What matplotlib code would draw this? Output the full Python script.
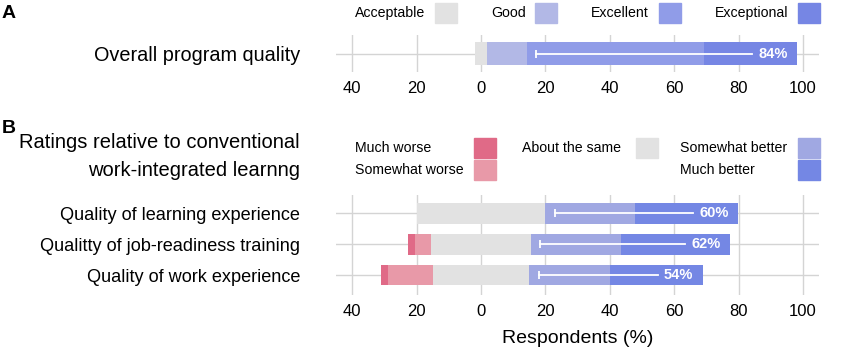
import numpy as np
import matplotlib.pyplot as plt
from matplotlib.patches import Rectangle

plt.rcParams['font.family'] = ['Liberation Sans', 'DejaVu Sans']

# Panel A data
quality_levels = ['Acceptable', 'Good', 'Excellent', 'Exceptional']
quality_colors = ['#e2e2e2', '#b2b8e6', '#909ce8', '#7686e4']
quality_pct = [3.5, 12.5, 55, 29]

# Panel B data
compare_levels = ['Much worse', 'Somewhat worse', 'About the same', 'Somewhat better', 'Much better']
compare_colors = ['#e06a87', '#e899a8', '#e2e2e2', '#a0a8e2', '#7487e4']
compare_items = ['Quality of learning experience', 'Qualitty of job-readiness training',
                 'Quality of work experience']
learning_pct = [0, 0, 40, 28, 32]
job_pct = [2, 5, 31, 28, 34]
work_pct = [2, 14, 30, 25, 29]

ticks = [-40, -20, 0, 20, 40, 60, 80, 100]
W, H = 851, 360
grid_col = '#d4d4d4'

fig = plt.figure(figsize=(W / 100, H / 100), dpi=100)


def frac_box(x0, y0, x1, y1):
    # pixel box (top-left origin) -> figure fraction [l, b, w, h]
    return [x0 / W, 1 - y1 / H, (x1 - x0) / W, (y1 - y0) / H]


def diverging_row(ax, y, values, colors, n_neg, hl_from, height):
    # neutral category is centred on zero; categories from hl_from on are summed in the label
    vals = np.array(values, dtype=float)
    neutral = vals[n_neg]
    left = -neutral / 2 - vals[:n_neg].sum()
    hl_start = None
    for i, (v, c) in enumerate(zip(vals, colors)):
        if i == hl_from:
            hl_start = left
        if v > 0:
            ax.barh(y, v, left=left, height=height, color=c, zorder=2)
        left += v
    end = left
    hl_total = vals[hl_from:].sum()
    ax.plot([hl_start + 3, end - 14], [y, y], color='white', lw=1.3, zorder=3)
    ax.plot([hl_start + 3], [y], marker='|', ms=6, mew=1.3, color='white', zorder=3)
    ax.text(end - 3, y, f'{hl_total:.0f}%', ha='right', va='center',
            color='white', fontsize=10.5, fontweight='bold', zorder=4)


def style_axis(ax, labels, ylim, label_size):
    ax.set_xlim(-45, 105)
    ax.set_ylim(*ylim)
    ax.set_xticks(ticks)
    ax.set_xticklabels([str(abs(t)) for t in ticks], fontsize=12)
    ax.tick_params(axis='x', length=0, pad=6.5)
    ax.set_yticks(range(len(labels)))
    ax.set_yticklabels(labels, fontsize=label_size)
    ax.tick_params(axis='y', length=0, pad=26)
    for t in ticks:
        ax.axvline(t, color=grid_col, lw=1, zorder=0)
    for i in range(len(labels)):
        ax.axhline(i, color=grid_col, lw=1, zorder=1)
    for s in ax.spines.values():
        s.set_visible(False)


# Panel A
axA = fig.add_axes(frac_box(336, 35, 819, 72))
style_axis(axA, ['Overall program quality'], (-0.5, 0.5), 14.3)
diverging_row(axA, 0, quality_pct, quality_colors, 0, 2, 0.6)

# Panel B
axB = fig.add_axes(frac_box(336, 195, 819, 295))
style_axis(axB, compare_items, (2.65, -0.6), 13.1)
for i, vals in enumerate([learning_pct, job_pct, work_pct]):
    diverging_row(axB, i, vals, compare_colors, 2, 3, 0.68)
axB.set_xlabel('Respondents (%)', fontsize=14, labelpad=8)

# panel letters and group title
fig.text(2 / W, 1 - 14 / H, 'A', fontsize=14, fontweight='bold', va='center')
fig.text(2 / W, 1 - 128 / H, 'B', fontsize=14, fontweight='bold', va='center')
fig.text(300 / W, 1 - 157 / H, 'Ratings relative to conventional\nwork-integrated learnng',
         fontsize=14.5, ha='right', va='center', multialignment='right', linespacing=1.6)


# legends drawn by hand
def legend_item(label, color, tx, box_x, cy):
    fig.text(tx / W, 1 - cy / H, label, fontsize=10.2, ha='left', va='center')
    fig.patches.append(Rectangle((box_x / W, 1 - (cy + 10) / H), 22 / W, 20 / H,
                                 transform=fig.transFigure, color=color))


legend_a = [(355, 435), (491, 535), (591, 659), (715, 798)]
for lab, col, (tx, bx) in zip(quality_levels, quality_colors, legend_a):
    legend_item(lab, col, tx, bx, 13)

legend_b = [(355, 474, 148), (355, 474, 170), (522, 636, 148), (680, 798, 148), (680, 798, 170)]
for lab, col, (tx, bx, cy) in zip(compare_levels, compare_colors, legend_b):
    legend_item(lab, col, tx, bx, cy)

fig.savefig('out.png', dpi=100)
